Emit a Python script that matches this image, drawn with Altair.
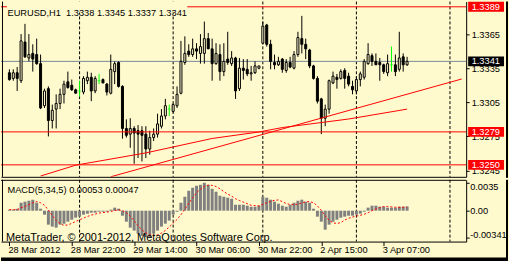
import json
import altair as alt
import pandas as pd

BG = "#FFFACD"
FONT = "Liberation Sans"
FS = 9.3

# ---------------- data: EURUSD H1, 28 Mar 2012 06:00 .. 3 Apr 2012 13:00 ----------------
opens = [1.3331, 1.3326, 1.3331, 1.3324, 1.3358, 1.3344, 1.3348, 1.3347, 1.3339, 1.3302,
         1.3317, 1.3289, 1.3299, 1.3304, 1.3312, 1.3323, 1.3320, 1.3316, 1.3315, 1.3314,
         1.3324, 1.3327, 1.3315, 1.3324, 1.3325, 1.3321, 1.3313, 1.3332, 1.3340, 1.3319,
         1.3282, 1.3277, 1.3282, 1.3280, 1.3280, 1.3277, 1.3264, 1.3274, 1.3277, 1.3284,
         1.3293, 1.3299, 1.3297, 1.3302, 1.3313, 1.3340, 1.3350, 1.3347, 1.3352, 1.3348,
         1.3348, 1.3361, 1.3352, 1.3339, 1.3347, 1.3332, 1.3343, 1.3339, 1.3344, 1.3317,
         1.3335, 1.3334, 1.3330, 1.3331, 1.3335, 1.3357, 1.3373, 1.3356, 1.3340, 1.3338,
         1.3343, 1.3333, 1.3340, 1.3335, 1.3347, 1.3361, 1.3356, 1.3351, 1.3337, 1.3326,
         1.3308, 1.3291, 1.3299, 1.3322, 1.3327, 1.3326, 1.3333, 1.3328, 1.3319, 1.3315,
         1.3325, 1.3327, 1.3339, 1.3346, 1.3341, 1.3340, 1.3338, 1.3331, 1.3338, 1.3338,
         1.3334, 1.3345, 1.3338]
highs = [1.3334, 1.3334, 1.3336, 1.3365, 1.3374, 1.3365, 1.3356, 1.3361, 1.3347, 1.3317,
         1.3319, 1.3303, 1.3312, 1.3317, 1.3324, 1.3332, 1.3325, 1.3317, 1.3324, 1.3328,
         1.3332, 1.3331, 1.3328, 1.3330, 1.3326, 1.3322, 1.3347, 1.3341, 1.3341, 1.3320,
         1.3290, 1.3291, 1.3284, 1.3285, 1.3284, 1.3284, 1.3280, 1.3282, 1.3295, 1.3299,
         1.3308, 1.3303, 1.3304, 1.3319, 1.3359, 1.3363, 1.3356, 1.3361, 1.3357, 1.3365,
         1.3376, 1.3366, 1.3361, 1.3357, 1.3356, 1.3357, 1.3367, 1.3350, 1.3345, 1.3344,
         1.3343, 1.3343, 1.3337, 1.3341, 1.3337, 1.3376, 1.3374, 1.3360, 1.3347, 1.3345,
         1.3344, 1.3343, 1.3345, 1.3350, 1.3367, 1.3381, 1.3361, 1.3352, 1.3338, 1.3328,
         1.3309, 1.3303, 1.3325, 1.3332, 1.3330, 1.3334, 1.3335, 1.3331, 1.3324, 1.3328,
         1.3332, 1.3343, 1.3357, 1.3348, 1.3348, 1.3344, 1.3339, 1.3347, 1.3354, 1.3347,
         1.3367, 1.3348, 1.3345]
lows = [1.3324, 1.3324, 1.3315, 1.3322, 1.3344, 1.3341, 1.3332, 1.3338, 1.3299, 1.3300,
        1.3275, 1.3282, 1.3282, 1.3299, 1.3304, 1.3317, 1.3315, 1.3313, 1.3310, 1.3312,
        1.3321, 1.3306, 1.3313, 1.3321, 1.3322, 1.3311, 1.3312, 1.3321, 1.3318, 1.3273,
        1.3274, 1.3265, 1.3251, 1.3256, 1.3253, 1.3256, 1.3259, 1.3271, 1.3274, 1.3282,
        1.3290, 1.3293, 1.3296, 1.3300, 1.3312, 1.3338, 1.3345, 1.3345, 1.3343, 1.3339,
        1.3339, 1.3352, 1.3324, 1.3338, 1.3324, 1.3328, 1.3338, 1.3337, 1.3308, 1.3315,
        1.3325, 1.3328, 1.3324, 1.3330, 1.3334, 1.3356, 1.3354, 1.3334, 1.3334, 1.3337,
        1.3331, 1.3331, 1.3335, 1.3334, 1.3345, 1.3348, 1.3343, 1.3335, 1.3325, 1.3304,
        1.3277, 1.3284, 1.3295, 1.3321, 1.3317, 1.3325, 1.3317, 1.3319, 1.3312, 1.3312,
        1.3319, 1.3325, 1.3338, 1.3337, 1.3338, 1.3324, 1.3330, 1.3328, 1.3332, 1.3328,
        1.3332, 1.3332, 1.3337]
closes = [1.3325, 1.3331, 1.3326, 1.3359, 1.3345, 1.3347, 1.3343, 1.3339, 1.3300, 1.3315,
          1.3289, 1.3298, 1.3304, 1.3312, 1.3321, 1.3318, 1.3316, 1.3313, 1.3315, 1.3326,
          1.3327, 1.3315, 1.3326, 1.3324, 1.3322, 1.3314, 1.3334, 1.3339, 1.3319, 1.3282,
          1.3276, 1.3282, 1.3278, 1.3277, 1.3276, 1.3264, 1.3274, 1.3277, 1.3286, 1.3293,
          1.3302, 1.3299, 1.3303, 1.3312, 1.3341, 1.3348, 1.3347, 1.3352, 1.3350, 1.3354,
          1.3361, 1.3352, 1.3339, 1.3348, 1.3332, 1.3341, 1.3340, 1.3344, 1.3315, 1.3335,
          1.3333, 1.3330, 1.3331, 1.3337, 1.3337, 1.3372, 1.3356, 1.3341, 1.3338, 1.3341,
          1.3334, 1.3340, 1.3336, 1.3347, 1.3362, 1.3356, 1.3352, 1.3337, 1.3326, 1.3306,
          1.3291, 1.3299, 1.3324, 1.3328, 1.3325, 1.3332, 1.3326, 1.3321, 1.3316, 1.3325,
          1.3330, 1.3341, 1.3347, 1.3341, 1.3338, 1.3338, 1.3332, 1.3339, 1.3338, 1.3332,
          1.3344, 1.3338, 1.3341]

macd_hist = [0.00013, 0.00013, 0.00025, 0.00100, 0.00113, 0.00125, 0.00138, 0.00100, 0.00025, -0.00050,
             -0.00175, -0.00200, -0.00213, -0.00175, -0.00163, -0.00138, -0.00113, -0.00088, -0.00075, -0.00050,
             -0.00038, -0.00025, -0.00025, -0.00013, -0.00013, -0.00013, 0.00013, 0.00038, 0.00025, -0.00063,
             -0.00138, -0.00213, -0.00250, -0.00288, -0.00318, -0.00330, -0.00341, -0.00288, -0.00250, -0.00200,
             -0.00163, -0.00125, -0.00050, -0.00013, 0.00100, 0.00175, 0.00250, 0.00288, 0.00313, 0.00325,
             0.00350, 0.00325, 0.00275, 0.00238, 0.00188, 0.00175, 0.00163, 0.00150, 0.00075, 0.00075,
             0.00075, 0.00063, 0.00050, 0.00050, 0.00063, 0.00175, 0.00163, 0.00138, 0.00113, 0.00088,
             0.00063, 0.00050, 0.00075, 0.00100, 0.00125, 0.00138, 0.00113, 0.00100, 0.00025, -0.00075,
             -0.00138, -0.00238, -0.00175, -0.00138, -0.00113, -0.00088, -0.00075, -0.00063, -0.00063, -0.00050,
             -0.00038, -0.00013, 0.00038, 0.00063, 0.00063, 0.00050, 0.00050, 0.00038, 0.00038, 0.00038,
             0.00050, 0.00050, 0.00053]
macd_signal = [0.00013, 0.00013, 0.00013, 0.00038, 0.00053, 0.00075, 0.00100, 0.00115, 0.00100, 0.00068,
               0.00008, -0.00060, -0.00123, -0.00163, -0.00185, -0.00178, -0.00160, -0.00135, -0.00115, -0.00093,
               -0.00073, -0.00055, -0.00043, -0.00030, -0.00023, -0.00018, -0.00010, 0.00003, 0.00010, 0.00000,
               -0.00025, -0.00070, -0.00128, -0.00190, -0.00240, -0.00278, -0.00303, -0.00310, -0.00303, -0.00280,
               -0.00248, -0.00205, -0.00158, -0.00110, -0.00050, 0.00018, 0.00093, 0.00160, 0.00225, 0.00270,
               0.00305, 0.00320, 0.00318, 0.00303, 0.00275, 0.00240, 0.00208, 0.00183, 0.00150, 0.00128,
               0.00108, 0.00088, 0.00068, 0.00063, 0.00060, 0.00080, 0.00100, 0.00118, 0.00130, 0.00135,
               0.00113, 0.00090, 0.00078, 0.00075, 0.00083, 0.00098, 0.00110, 0.00115, 0.00100, 0.00060,
               0.00005, -0.00065, -0.00120, -0.00153, -0.00160, -0.00150, -0.00118, -0.00095, -0.00080, -0.00068,
               -0.00058, -0.00045, -0.00025, 0.00000, 0.00023, 0.00040, 0.00053, 0.00053, 0.00048, 0.00043,
               0.00043, 0.00043, 0.00047]

time_tick_bars = [0, 16, 32, 48, 64, 80, 96]
time_tick_labels = ["28 Mar 2012", "28 Mar 22:00", "29 Mar 14:00", "30 Mar 06:00",
                    "30 Mar 22:00", "2 Apr 15:00", "3 Apr 07:00"]
separator_bars = [18, 42, 65, 89, 113]
price_ticks = [1.3365, 1.3335, 1.3305, 1.3275, 1.3245]
red_levels = [1.3389, 1.3279, 1.3250]
bid_price = 1.3341
trend_bars = [26, 116]
trend_prices = [1.32395, 1.33255]
ma_bars = [8, 17, 35, 52, 64, 70, 87, 102]
ma_prices = [1.32402, 1.32497, 1.32605, 1.32732, 1.32789, 1.32828, 1.32903, 1.32990]
macd_ticks = [0.0035, 0.0, -0.00341]
macd_tick_labels = ["0.0035", "0.00", "-0.00341"]

# ---------------- tables ----------------
n = len(opens)
bars = list(range(n))
kind = ["up" if c > o else ("down" if c < o else "doji") for o, c in zip(opens, closes)]
candles = pd.DataFrame({"i": bars, "o": opens, "h": highs, "l": lows, "c": closes, "kind": kind})
bodies = candles[candles["kind"] != "doji"]
dojis = candles[candles["kind"] == "doji"]
one = pd.DataFrame({"a": [0]})

xs = alt.Scale(domain=[-0.875, 115.875], nice=False, zero=False)
ys = alt.Scale(domain=[1.323948, 1.339364], nice=False, zero=False)
ys2 = alt.Scale(domain=[-0.003875, 0.003875], nice=False, zero=False)

x_main_axis = alt.Axis(labels=False, ticks=False, grid=False, domain=True,
                       domainColor="black", title=None)
y_main_axis = alt.Axis(orient="right", values=price_ticks, format=".4f", grid=False,
                       tickSize=3, tickColor="black", domainColor="black",
                       labelColor="black", labelFont=FONT, labelFontSize=FS,
                       labelPadding=2, labelAlign="left", labelBaseline="middle",
                       labelOverlap=False, title=None)

time_expr = f"{json.dumps(time_tick_labels)}[indexof({json.dumps(time_tick_bars)}, datum.value)]"
x_macd_axis = alt.Axis(values=time_tick_bars, labelExpr=time_expr, tickSize=4,
                       tickColor="black", domainColor="black", labelColor="black",
                       labelFont=FONT, labelFontSize=FS, labelAlign="left",
                       labelBaseline="alphabetic", labelPadding=7, labelOffset=-1.5,
                       labelOverlap=False, labelFlush=False, grid=False, title=None)
y_macd_axis = alt.Axis(orient="right", values=macd_ticks, labels=False, tickSize=3,
                       tickColor="black", domainColor="black", grid=False, title=None)


def X():
    return alt.X("i:Q", scale=xs, axis=x_main_axis)


def Y(f):
    return alt.Y(f"{f}:Q", scale=ys, axis=y_main_axis)


def XM():
    return alt.X("i:Q", scale=xs, axis=x_macd_axis)


def YM(f):
    return alt.Y(f"{f}:Q", scale=ys2, axis=y_macd_axis)


# ---------------- main price panel ----------------
seps = alt.Chart(pd.DataFrame({"i": separator_bars})).mark_rule(
    color="black", strokeDash=[3, 2], strokeWidth=1).encode(x=X())
bid = alt.Chart(pd.DataFrame({"p": [bid_price]})).mark_rule(
    color="#778899", strokeWidth=1).encode(y=Y("p"))
wicks = alt.Chart(candles).mark_rule(strokeWidth=1).encode(
    x=X(), y=Y("l"), y2=alt.Y2("h"),
    color=alt.Color("kind:N", scale=alt.Scale(domain=["up", "down", "doji"],
                                              range=["black", "black", "#00FF00"]),
                    legend=None))
body = alt.Chart(bodies).mark_bar(size=2, stroke="black", strokeWidth=1).encode(
    x=X(), y=Y("o"), y2=alt.Y2("c"),
    fill=alt.Fill("kind:N", scale=alt.Scale(domain=["up", "down"], range=[BG, "black"]),
                  legend=None))
dj = alt.Chart(dojis).mark_tick(orient="horizontal", size=3, thickness=1,
                                color="#00FF00").encode(x=X(), y=Y("o"))
hl = alt.Chart(pd.DataFrame({"p": red_levels})).mark_rule(
    color="#FF0000", strokeWidth=1).encode(y=Y("p"))
trend = alt.Chart(pd.DataFrame({"i": trend_bars, "p": trend_prices})).mark_line(
    color="#FF0000", strokeWidth=1, clip=True).encode(x=X(), y=Y("p"))
ma = alt.Chart(pd.DataFrame({"i": ma_bars, "p": ma_prices})).mark_line(
    color="#FF0000", strokeWidth=1, clip=True).encode(x=X(), y=Y("p"))

title_text = "EURUSD,H1\u00a0 " + " ".join(f"{v:.4f}" for v in
                                          [opens[-1], highs[-1], lows[-1], closes[-1]])
title_bg = alt.Chart(one).mark_rect(color=BG).encode(
    x=alt.value(6), x2=alt.value(187), y=alt.value(0), y2=alt.value(11))
title = alt.Chart(one).mark_text(align="left", baseline="alphabetic", font=FONT,
                                 fontSize=FS, color="black").encode(
    x=alt.value(6.5), y=alt.value(15), text=alt.value(title_text))

red_box_df = pd.DataFrame({"p": red_levels, "t": [f"{v:.4f}" for v in red_levels]})
bid_box_df = pd.DataFrame({"p": [bid_price], "t": [f"{bid_price:.4f}"]})
red_boxes = alt.Chart(red_box_df).mark_rule(strokeWidth=10, strokeCap="butt",
                                            color="#FF0000").encode(
    x=alt.value(469), x2=alt.value(505), y=Y("p"))
bid_box = alt.Chart(bid_box_df).mark_rule(strokeWidth=10, strokeCap="butt",
                                          color="black").encode(
    x=alt.value(469), x2=alt.value(505), y=Y("p"))
red_box_text = alt.Chart(red_box_df).mark_text(align="left", baseline="middle", font=FONT,
                                               fontSize=FS, color="white").encode(
    x=alt.value(472.5), y=Y("p"), text="t:N")
bid_box_text = alt.Chart(bid_box_df).mark_text(align="left", baseline="middle", font=FONT,
                                               fontSize=FS, color="white").encode(
    x=alt.value(472.5), y=Y("p"), text="t:N")
left_border = alt.Chart(one).mark_rule(color="black", strokeWidth=1).encode(
    x=alt.value(1.5), y=alt.value(0), y2=alt.value(176))
right_band = alt.Chart(one).mark_rect(color="black").encode(
    x=alt.value(507), x2=alt.value(509), y=alt.value(0), y2=alt.value(177))

main = alt.layer(seps, bid, wicks, body, dj, hl, trend, ma, title_bg, title,
                 red_boxes, bid_box, red_box_text, bid_box_text, left_border,
                 right_band).properties(width=467, height=176)

# ---------------- MACD panel ----------------
macd_df = pd.DataFrame({"i": bars, "h": macd_hist, "s": macd_signal})
seps2 = alt.Chart(pd.DataFrame({"i": separator_bars})).mark_rule(
    color="black", strokeDash=[3, 2], strokeWidth=1).encode(x=XM())
hbars = alt.Chart(macd_df).mark_bar(size=3, color="#808080").encode(
    x=XM(), y=YM("h"), y2=alt.datum(0))
sigl = alt.Chart(macd_df).mark_line(color="#FF0000", strokeDash=[2, 2],
                                    strokeWidth=1).encode(x=XM(), y=YM("s"))
macd_title = alt.Chart(one).mark_text(align="left", baseline="alphabetic", font=FONT,
                                      fontSize=FS, color="black").encode(
    x=alt.value(6.5), y=alt.value(13.7),
    text=alt.value(f"MACD(5,34,5) {macd_hist[-1]:.5f} {macd_signal[-1]:.5f}"))
copyright_txt = alt.Chart(one).mark_text(align="left", baseline="alphabetic", font=FONT,
                                         fontSize=11, color="black").encode(
    x=alt.value(5), y=alt.value(61),
    text=alt.value("MetaTrader, \u00a9 2001-2012, MetaQuotes Software Corp."))
label_layers = []
for v, t, base in zip(macd_ticks, macd_tick_labels, ["top", "middle", "alphabetic"]):
    label_layers.append(
        alt.Chart(pd.DataFrame({"v": [v], "t": [t]})).mark_text(
            align="left", baseline=base, font=FONT, fontSize=FS, color="black").encode(
            x=alt.value(471), y=YM("v"), text="t:N"))
top_border = alt.Chart(one).mark_rule(color="black", strokeWidth=1).encode(
    x=alt.value(0), x2=alt.value(467), y=alt.value(0.5))
left_border2 = alt.Chart(one).mark_rule(color="black", strokeWidth=1).encode(
    x=alt.value(1.5), y=alt.value(0), y2=alt.value(62))
right_band2 = alt.Chart(one).mark_rect(color="black").encode(
    x=alt.value(507), x2=alt.value(509), y=alt.value(0), y2=alt.value(83))
bottom_band = alt.Chart(one).mark_rect(color="black").encode(
    x=alt.value(0), x2=alt.value(509), y=alt.value(78), y2=alt.value(83))

macd = alt.layer(seps2, hbars, sigl, macd_title, copyright_txt, *label_layers,
                 top_border, left_border2, right_band2, bottom_band).properties(
    width=467, height=62)

chart = alt.vconcat(main, macd, spacing=1).properties(
    padding=0, background=BG).configure_view(stroke=None)

chart.save("out.html", embed_options={"renderer": "svg", "actions": False})
